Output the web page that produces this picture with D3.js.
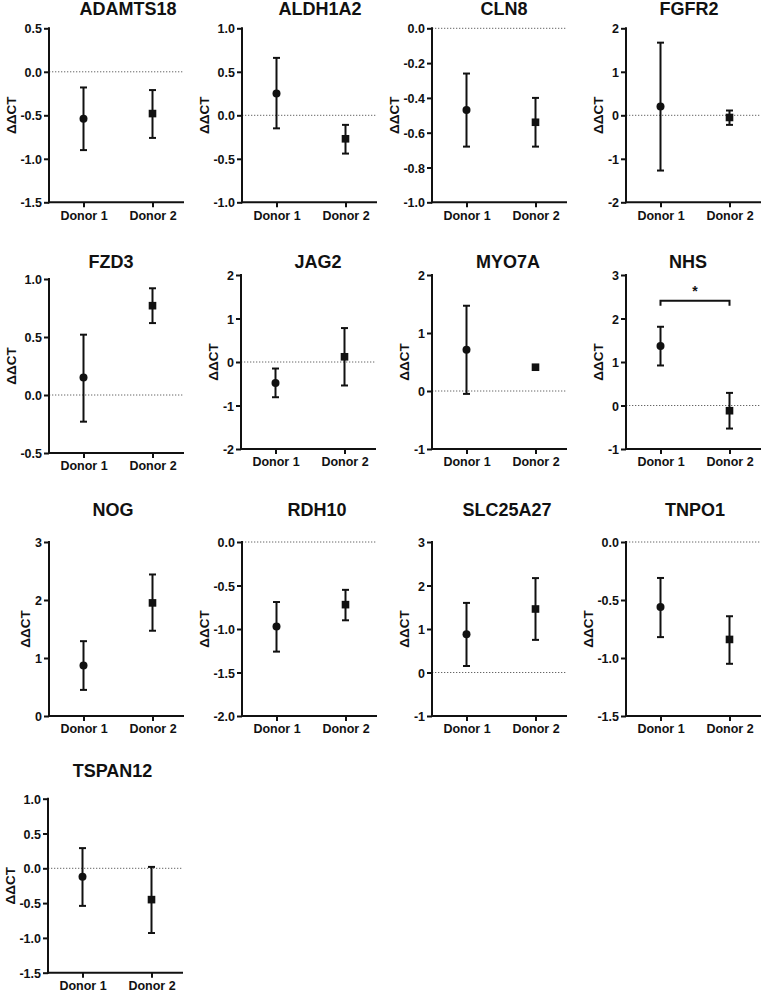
<!DOCTYPE html>
<html>
<head>
<meta charset="utf-8">
<script src="https://cdn.jsdelivr.net/npm/d3@7"></script>
<style>
  html, body { margin: 0; padding: 0; background: #fff; }
  svg { display: block; }
  text { font-family: "Liberation Sans", Arial, sans-serif; font-weight: bold; fill: #111; }
</style>
</head>
<body>
<svg id="chart" width="766" height="992"></svg>
<script>
// ---------------- DATA ----------------
const genes = ["ADAMTS18","ALDH1A2","CLN8","FGFR2","FZD3","JAG2","MYO7A","NHS","NOG","RDH10","SLC25A27","TNPO1","TSPAN12"];
const donors = ["Donor 1","Donor 2"];

// Donor 1 (circle): mean, upper and lower error bar ends
const donor1Mean  = [-0.54, 0.25, -0.47, 0.20, 0.15, -0.48, 0.71, 1.37, 0.87, -0.97, 0.88, -0.56, -0.12];
const donor1Upper = [-0.18, 0.66, -0.26, 1.67, 0.52, -0.15, 1.47, 1.81, 1.29, -0.69, 1.60, -0.31, 0.29];
const donor1Lower = [-0.90,-0.15, -0.68,-1.27,-0.23, -0.81,-0.05, 0.92, 0.45, -1.26, 0.15, -0.82, -0.54];

// Donor 2 (square)
const donor2Mean  = [-0.48,-0.27, -0.54,-0.05, 0.77, 0.12, 0.41,-0.12, 1.95, -0.72, 1.46, -0.84, -0.45];
const donor2Upper = [-0.21,-0.11, -0.40, 0.11, 0.92, 0.78, 0.43, 0.29, 2.44, -0.55, 2.17, -0.64, 0.02];
const donor2Lower = [-0.76,-0.44, -0.68,-0.22, 0.62,-0.54, 0.39,-0.53, 1.47, -0.90, 0.75, -1.05, -0.93];

// y-axis tick values for each panel (first = bottom, last = top)
const yTicks = [
  [-1.5,-1.0,-0.5,0.0,0.5],
  [-1.0,-0.5,0.0,0.5,1.0],
  [-1.0,-0.8,-0.6,-0.4,-0.2,0.0],
  [-2,-1,0,1,2],
  [-0.5,0.0,0.5,1.0],
  [-2,-1,0,1,2],
  [-1,0,1,2],
  [-1,0,1,2,3],
  [0,1,2,3],
  [-2.0,-1.5,-1.0,-0.5,0.0],
  [-1,0,1,2,3],
  [-1.5,-1.0,-0.5,0.0],
  [-1.5,-1.0,-0.5,0.0,0.5,1.0]
];
// decimals shown on tick labels
const yDecimals = [1,1,1,0,1,0,0,0,0,1,0,1,1];

// significance annotation
const sigGene = ["NHS"];
const sigLevel = [2.41];
const sigLabel = ["*"];

const yLabel = "ΔΔCT";

// ---------------- LAYOUT ----------------
const colX = [49, 242, 432, 626];
const rowTop = [28.3, 275, 542, 798.7];
const titleBase = [15, 268, 516, 777];
const titleX = [128, 320, 504, 689, 111, 318, 508, 688, 113, 317, 507, 695, 112.5];
const panelDY = [0,0,0,0, 4,0,0,0, 0,0,0,0, 0];
const panelDX = [0,0,0,0, 0,-1,0,0, 0,0,0,0, -1];
const plotH = 174, plotW = 135, bandW = 138;

const svg = d3.select("#chart");
const ink = "#111";

function fmt(v, dec) {
  return (v < 0 ? "-" : "") + Math.abs(v).toFixed(dec);
}

genes.forEach((gene, i) => {
  const col = i % 4, row = Math.floor(i / 4);
  const x0 = colX[col] + panelDX[i];
  const top = rowTop[row] + panelDY[i];
  const bottom = top + plotH;
  const ticks = yTicks[i];

  const y = d3.scaleLinear().domain([ticks[0], ticks[ticks.length - 1]]).range([bottom, top]);
  const x = d3.scalePoint().domain(donors).range([x0, x0 + bandW]).padding(0.5);

  const g = svg.append("g");

  // title
  g.append("text").attr("x", titleX[i]).attr("y", titleBase[row])
    .attr("text-anchor", "middle").style("font-size", "18px").text(gene);

  // zero reference line
  const yd = y.domain();
  if (0 > yd[0] && 0 <= yd[1]) {
    g.append("line").attr("x1", x0).attr("x2", x0 + plotW)
      .attr("y1", y(0)).attr("y2", y(0))
      .attr("stroke", "#666").attr("stroke-width", 1).attr("stroke-dasharray", "1.3,1.7");
  }

  // y axis
  const yAxis = d3.axisLeft(y).tickValues(ticks).tickSizeOuter(0).tickSize(5).tickPadding(2)
    .tickFormat(v => fmt(v, yDecimals[i]));
  const ya = g.append("g").attr("transform", `translate(${x0},0)`).call(yAxis);
  ya.select(".domain").attr("stroke", ink).attr("stroke-width", 2).attr("d", `M0,${top - 1}V${bottom + 1}`);
  ya.selectAll(".tick line").attr("stroke", ink).attr("stroke-width", 2);
  ya.selectAll(".tick text").style("font-size", "12.5px").style("font-family", "'Liberation Sans', Arial, sans-serif")
    .style("font-weight", "bold").attr("fill", ink).attr("dy", "0.36em");

  // x axis
  const xAxis = d3.axisBottom(x).tickSizeOuter(0).tickSize(5).tickPadding(3.5);
  const xa = g.append("g").attr("transform", `translate(0,${bottom})`).call(xAxis);
  xa.select(".domain").attr("stroke", ink).attr("stroke-width", 2).attr("d", `M${x0 - 1},0H${x0 + plotW}`);
  xa.selectAll(".tick line").attr("stroke", ink).attr("stroke-width", 2);
  xa.selectAll(".tick text").style("font-size", "12.5px").style("font-family", "'Liberation Sans', Arial, sans-serif")
    .style("font-weight", "bold").attr("fill", ink);

  // y label
  const bb = ya.node().getBBox();
  const lx = x0 + bb.x - 3 - 6.5;
  g.append("text").attr("transform", `translate(${lx},${(top + bottom) / 2}) rotate(-90)`)
    .attr("text-anchor", "middle").attr("dy", "0.36em").style("font-size", "13.5px").text(yLabel);

  // error bars + markers
  const pts = [
    { d: donors[0], m: donor1Mean[i], hi: donor1Upper[i], lo: donor1Lower[i], shape: "circle" },
    { d: donors[1], m: donor2Mean[i], hi: donor2Upper[i], lo: donor2Lower[i], shape: "square" }
  ];
  const cap = 3.5;
  pts.forEach(p => {
    const cx = x(p.d);
    g.append("line").attr("x1", cx).attr("x2", cx).attr("y1", y(p.hi)).attr("y2", y(p.lo))
      .attr("stroke", ink).attr("stroke-width", 2);
    [p.hi, p.lo].forEach(v => {
      g.append("line").attr("x1", cx - cap).attr("x2", cx + cap).attr("y1", y(v)).attr("y2", y(v))
        .attr("stroke", ink).attr("stroke-width", 2);
    });
    if (p.shape === "circle") {
      g.append("circle").attr("cx", cx).attr("cy", y(p.m)).attr("r", 4).attr("fill", ink);
    } else {
      g.append("rect").attr("x", cx - 3.8).attr("y", y(p.m) - 3.8).attr("width", 7.6).attr("height", 7.6).attr("fill", ink);
    }
  });

  // significance bracket
  const si = sigGene.indexOf(gene);
  if (si >= 0) {
    const by = y(sigLevel[si]);
    const xa1 = x(donors[0]), xa2 = x(donors[1]);
    g.append("path").attr("d", `M${xa1},${by + 5}V${by}H${xa2}V${by + 5}`)
      .attr("fill", "none").attr("stroke", ink).attr("stroke-width", 2);
    g.append("text").attr("x", (xa1 + xa2) / 2).attr("y", by - 5)
      .attr("text-anchor", "middle").style("font-size", "14px").text(sigLabel[si]);
  }
});
</script>
</body>
</html>
